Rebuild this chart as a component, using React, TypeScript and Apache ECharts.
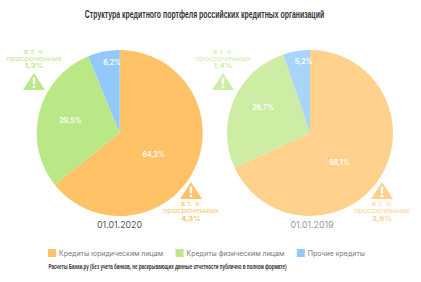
import React, { useEffect, useRef } from "react";
import * as echarts from "echarts";

const categories = ["Кредиты юридическим лицам", "Кредиты физическим лицам", "Прочие кредиты"];
const values2020 = [64.3, 29.5, 6.2];
const values2019 = [68.1, 26.7, 5.2];
const overdue2020 = ["1,3%", "4,3%"];
const overdue2019 = ["1,4%", "3,9%"];
const dates = ["01.01.2020", "01.01.2019"];
const titleText = "Структура кредитного портфеля российских кредитных организаций";
const sourceText = "Расчеты Банки.ру (без учета банков, не раскрывающих данные отчетности публично в полном формате)";

const colors2020 = ["#FFC266", "#BBE886", "#93C9FA"];
const colors2019 = ["#FFD18C", "#CDEDA4", "#A9D5FB"];
const body = "Inter, 'Open Sans', sans-serif";
const narrow = "'Liberation Sans', sans-serif";

const fmt = (v: number) => v.toFixed(1).replace(".", ",") + "%";

function pie(name: string, values: number[], colors: string[], center: number[], offsets: number[][]) {
  return {
    type: "pie",
    name,
    radius: 83,
    center,
    startAngle: 90,
    clockwise: true,
    silent: true,
    data: values.map((v, i) => ({ name: categories[i], value: v, itemStyle: { color: colors[i] } })),
    label: {
      position: "inside",
      formatter: (p: any) => fmt(p.value),
      color: "#fff",
      fontFamily: body,
      fontSize: 7,
      fontWeight: 600,
    },
    labelLine: { show: false },
    labelLayout: (p: any) => ({ dx: offsets[p.dataIndex][0], dy: offsets[p.dataIndex][1] }),
  };
}

function callout(cx: number, textTop: number, triTop: number, value: string, color: string) {
  const lines = ["в т. ч.", "просроченных", value];
  return [
    ...lines.map((t, i) => ({
      type: "text",
      x: cx,
      y: textTop + i * 7.2,
      scaleX: 1.17,
      style: {
        text: t,
        fill: color,
        font: `${i === 2 ? 700 : 400} 6.6px ${body}`,
        textAlign: "center",
        textVerticalAlign: "middle",
      },
    })),
    {
      type: "polygon",
      shape: { points: [[cx, triTop], [cx + 11, triTop + 17], [cx - 11, triTop + 17]] },
      style: { fill: color },
    },
    {
      type: "rect",
      shape: { x: cx - 1.2, y: triTop + 4.5, width: 2.4, height: 7, r: 1 },
      style: { fill: "#fff" },
    },
    { type: "circle", shape: { cx, cy: triTop + 14, r: 1.3 }, style: { fill: "#fff" } },
  ];
}

function centerText(text: string, x: number, y: number, font: string, fill: string, scaleX = 1) {
  return { type: "text", x, y, scaleX, style: { text, font, fill, textAlign: "center", textVerticalAlign: "middle" } };
}

export default function App() {
  const ref = useRef<HTMLDivElement>(null);
  useEffect(() => {
    const chart = echarts.init(ref.current!, null, { renderer: "svg" });
    chart.setOption({
      animation: false,
      backgroundColor: "#fff",
      legend: {
        data: categories,
        left: 48,
        top: 249,
        padding: 0,
        itemWidth: 8,
        itemHeight: 8,
        itemGap: 12.5,
        selectedMode: false,
        icon: "rect",
        textStyle: { fontFamily: body, fontSize: 7, color: "#777", padding: [0, 0, 0, -2] },
      },
      series: [
        pie("01.01.2020", values2020, colors2020, [119.7, 133], [[-6, 2], [-6, -1], [1, -27]]),
        pie("01.01.2019", values2019, colors2019, [310, 133], [[-8, 6], [-6, -8], [1, -28]]),
      ],
      graphic: {
        elements: [
          centerText(titleText, 204.5, 14, `700 11px ${narrow}`, "#333", 0.63),
          ...callout(34, 51.5, 73, overdue2020[0], colors2020[1]),
          ...callout(191, 204, 182, overdue2020[1], colors2020[0]),
          ...callout(223, 51.5, 73, overdue2019[0], colors2019[1]),
          ...callout(382, 204, 182, overdue2019[1], colors2019[0]),
          centerText(dates[0], 119.5, 224.5, `400 9.5px ${body}`, "#555", 0.93),
          centerText(dates[1], 312, 224.5, `400 9.5px ${body}`, "#999", 0.93),
          centerText(sourceText, 167.5, 266, `700 7.5px ${narrow}`, "#333", 0.604),
        ],
      },
    });
    return () => chart.dispose();
  }, []);
  return <div ref={ref} style={{ width: 421, height: 282, position: "absolute", left: 0, top: 0 }} />;
}
